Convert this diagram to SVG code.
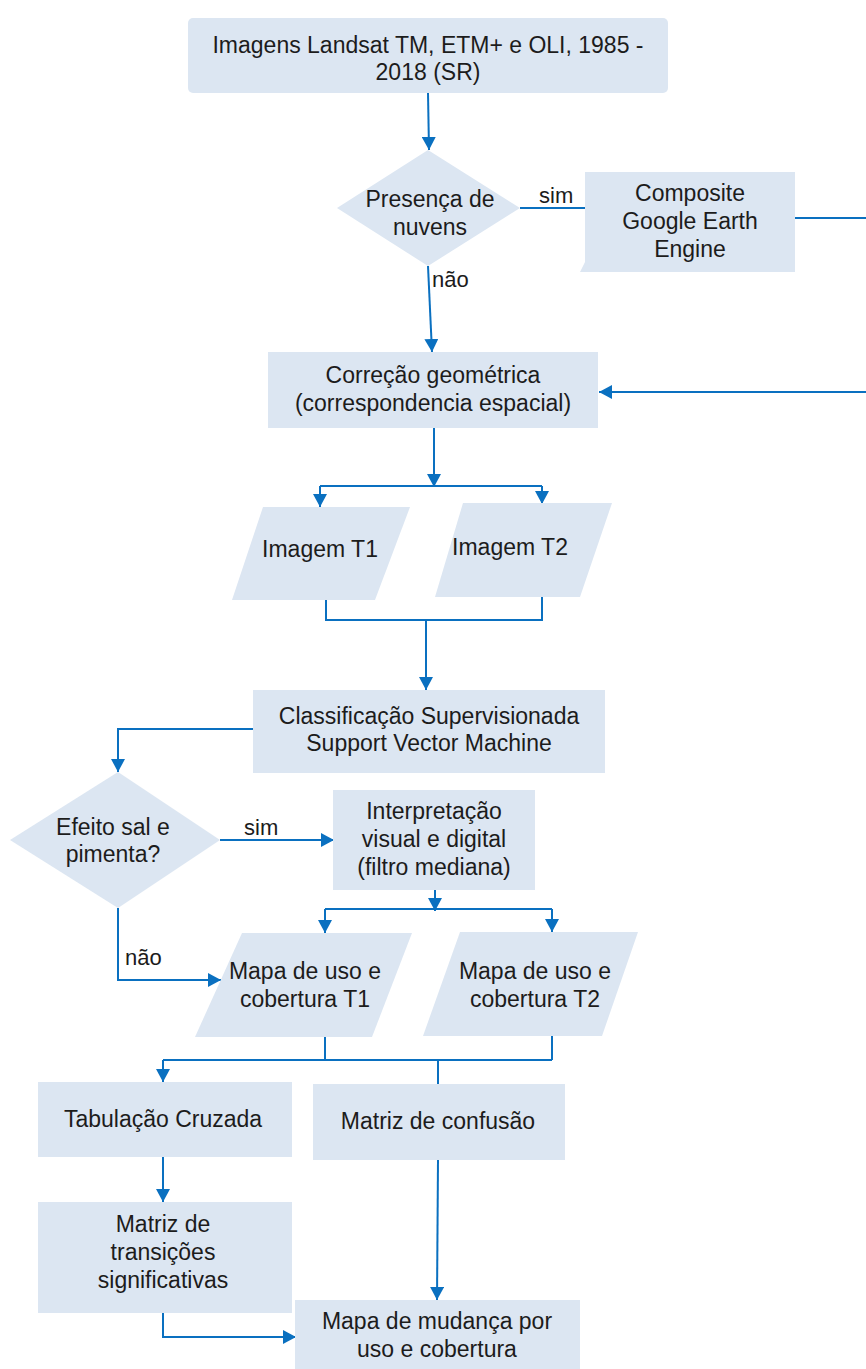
<svg xmlns="http://www.w3.org/2000/svg" width="866" height="1369" viewBox="0 0 866 1369">
<style>
.n{fill:#dce6f2;stroke:none}
.t{font-family:"Liberation Sans",Arial,sans-serif;font-size:23px;fill:#1c1c1c;text-anchor:middle}
.l{font-family:"Liberation Sans",Arial,sans-serif;font-size:22px;fill:#1c1c1c}
.c{fill:none;stroke:#0a70c0;stroke-width:2}
</style>
<defs>
<marker id="a" markerUnits="userSpaceOnUse" markerWidth="14" markerHeight="14" refX="13" refY="7" orient="auto">
<path d="M0,0 L13,7 L0,14 z" fill="#0a70c0"/>
</marker>
</defs>
<rect width="866" height="1369" fill="#ffffff"/>
<g id="connectors">
<path class="c" d="M428,93 L429,150" marker-end="url(#a)"/>
<path class="c" d="M520,208 L586,208"/>
<path class="c" d="M795,218 L866,218"/>
<path class="c" d="M866,392 L599,392" marker-end="url(#a)"/>
<path class="c" d="M428,266 L432,352" marker-end="url(#a)"/>
<path class="c" d="M434,428 L434,487" marker-end="url(#a)"/>
<path class="c" d="M320,486 L542,486"/>
<path class="c" d="M320,486 L320,507" marker-end="url(#a)"/>
<path class="c" d="M542,486 L542,504" marker-end="url(#a)"/>
<path class="c" d="M326,600 L326,620 L542,620 L542,597"/>
<path class="c" d="M426,620 L426,690" marker-end="url(#a)"/>
<path class="c" d="M253,729 L118,729 L118,772" marker-end="url(#a)"/>
<path class="c" d="M220,840 L334,840" marker-end="url(#a)"/>
<path class="c" d="M118,908 L118,980 L221,980" marker-end="url(#a)"/>
<path class="c" d="M435,890 L435,911" marker-end="url(#a)"/>
<path class="c" d="M325,909 L552,909"/>
<path class="c" d="M325,909 L325,933" marker-end="url(#a)"/>
<path class="c" d="M552,909 L552,932" marker-end="url(#a)"/>
<path class="c" d="M325,1037 L325,1060 M552,1036 L552,1060 M163,1060 L552,1060 M438,1060 L438,1084"/>
<path class="c" d="M163,1060 L163,1082" marker-end="url(#a)"/>
<path class="c" d="M163,1157 L163,1202" marker-end="url(#a)"/>
<path class="c" d="M438,1160 L437,1300" marker-end="url(#a)"/>
<path class="c" d="M163,1313 L163,1337 L296,1337" marker-end="url(#a)"/>
<text class="l" x="539" y="203">sim</text>
<text class="l" x="432" y="287">não</text>
<text class="l" x="244" y="835">sim</text>
<text class="l" x="125" y="965">não</text>
</g>
<g id="n1">
<rect class="n" x="188" y="18" width="480" height="75" rx="5"/>
<text class="t" x="428" y="53">Imagens Landsat TM, ETM+ e OLI, 1985 -</text>
<text class="t" x="428" y="80">2018 (SR)</text>
</g>
<g id="n2">
<polygon class="n" points="428,150 520,208 428,266 337,208"/>
<text class="t" x="430" y="207">Presença de</text>
<text class="t" x="430" y="235">nuvens</text>
</g>
<g id="n3">
<polygon class="n" points="585,172 795,172 795,272 580,272 585,262"/>
<text class="t" x="690" y="201">Composite</text>
<text class="t" x="690" y="229">Google Earth</text>
<text class="t" x="690" y="257">Engine</text>
</g>
<g id="n4">
<rect class="n" x="268" y="352" width="330" height="76"/>
<text class="t" x="433" y="383">Correção geométrica</text>
<text class="t" x="433" y="411">(correspondencia espacial)</text>
</g>
<g id="n5">
<polygon class="n" points="263,507 410,507 375,600 232,600"/>
<text class="t" x="320" y="557">Imagem T1</text>
</g>
<g id="n6">
<polygon class="n" points="463,503 612,503 580,597 435,597"/>
<text class="t" x="510" y="555">Imagem T2</text>
</g>
<g id="n7">
<rect class="n" x="253" y="690" width="352" height="83"/>
<text class="t" x="429" y="724">Classificação Supervisionada</text>
<text class="t" x="429" y="751">Support Vector Machine</text>
</g>
<g id="n8">
<polygon class="n" points="118,772 220,840 118,908 10,840"/>
<text class="t" x="113" y="835">Efeito sal e</text>
<text class="t" x="113" y="862">pimenta?</text>
</g>
<g id="n9">
<rect class="n" x="333" y="790" width="202" height="100"/>
<text class="t" x="434" y="819">Interpretação</text>
<text class="t" x="434" y="847">visual e digital</text>
<text class="t" x="434" y="875">(filtro mediana)</text>
</g>
<g id="n10">
<polygon class="n" points="242,933 412,933 372,1037 195,1037"/>
<text class="t" x="305" y="979">Mapa de uso e</text>
<text class="t" x="305" y="1007">cobertura T1</text>
</g>
<g id="n11">
<polygon class="n" points="460,932 638,932 602,1036 423,1036"/>
<text class="t" x="535" y="979">Mapa de uso e</text>
<text class="t" x="535" y="1007">cobertura T2</text>
</g>
<g id="n12">
<rect class="n" x="38" y="1082" width="254" height="75"/>
<text class="t" x="163" y="1127">Tabulação Cruzada</text>
</g>
<g id="n13">
<rect class="n" x="313" y="1084" width="252" height="76"/>
<text class="t" x="438" y="1129">Matriz de confusão</text>
</g>
<g id="n14">
<rect class="n" x="38" y="1202" width="254" height="111"/>
<text class="t" x="163" y="1232">Matriz de</text>
<text class="t" x="163" y="1260">transições</text>
<text class="t" x="163" y="1288">significativas</text>
</g>
<g id="n15">
<rect class="n" x="295" y="1300" width="285" height="69"/>
<text class="t" x="437" y="1329">Mapa de mudança por</text>
<text class="t" x="437" y="1357">uso e cobertura</text>
</g>
</svg>
